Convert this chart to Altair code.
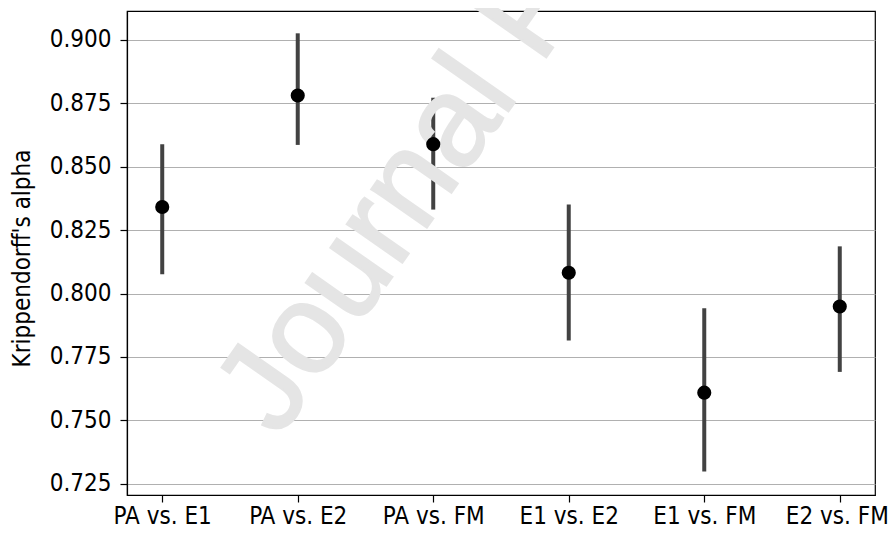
import altair as alt
import pandas as pd

categories = ["PA vs. E1", "PA vs. E2", "PA vs. FM", "E1 vs. E2", "E1 vs. FM", "E2 vs. FM"]
alpha = [0.8341, 0.8781, 0.8589, 0.8082, 0.7609, 0.7949]
ci_low = [0.8076, 0.8586, 0.8331, 0.7815, 0.7298, 0.7691]
ci_high = [0.8589, 0.9026, 0.8772, 0.8351, 0.7942, 0.8186]
y_ticks = [0.725, 0.75, 0.775, 0.8, 0.825, 0.85, 0.875, 0.9]
y_domain = [0.72056, 0.9114]
watermark_text = ["Journal Pre-proof"]

df = pd.DataFrame({"pair": categories, "alpha": alpha, "lo": ci_low, "hi": ci_high})
wm = pd.DataFrame({"t": watermark_text})

FONT = "DejaVu Sans Condensed"

x_enc = alt.X(
    "pair:N",
    sort=categories,
    title=None,
    scale=alt.Scale(type="point", padding=0.26),
    axis=alt.Axis(
        labelAngle=0, grid=False, ticks=True, tickSize=7, tickWidth=1.2,
        tickColor="black", domainColor="black", domainWidth=1.2,
        labelFont=FONT, labelFontSize=24, labelColor="black", labelPadding=2,
        labelOffset={"condition": {"test": "datum.label == 'E2 vs. FM'", "value": -3}, "value": 0},
    ),
)
y_scale = alt.Scale(domain=y_domain, nice=False, zero=False)
y_axis = alt.Axis(
    values=y_ticks, format=".3f", title="Krippendorff's alpha", grid=True,
    gridColor="#b0b0b0", gridWidth=1.2, tickSize=7, tickWidth=1.2,
    tickColor="black", domainColor="black", domainWidth=1.2,
    labelFont=FONT, labelFontSize=24, labelColor="black", labelPadding=9,
    titleFont=FONT, titleFontSize=24, titleFontWeight="normal", titleColor="black",
    titleAngle=270, titleX=-105, titleY=247, titleAlign="center", titleBaseline="middle",
)

watermark = alt.Chart(wm).mark_text(
    align="left", baseline="alphabetic", angle=305, fontSize=128,
    font="Liberation Sans", color="#e5e5e5", stroke="#e5e5e5", strokeWidth=2,
).encode(text="t:N", x=alt.value(152), y=alt.value(428))

bars = alt.Chart(df).mark_rule(color="#424242", strokeWidth=4).encode(
    x=x_enc,
    y=alt.Y("lo:Q", scale=y_scale, axis=y_axis),
    y2="hi:Q",
)

points = alt.Chart(df).mark_circle(color="black", size=200, opacity=1).encode(
    x=x_enc,
    y=alt.Y("alpha:Q", scale=y_scale, axis=y_axis),
)

chart = alt.layer(bars, watermark, points).properties(
    width=748, height=484,
    autosize=alt.AutoSizeParams(type="none"),
    padding={"left": 119, "top": 3, "right": 13, "bottom": 35},
    background="white",
).configure_view(stroke="black", strokeWidth=1.2)

chart.save("out.html", embed_options={"renderer": "svg", "actions": False})
